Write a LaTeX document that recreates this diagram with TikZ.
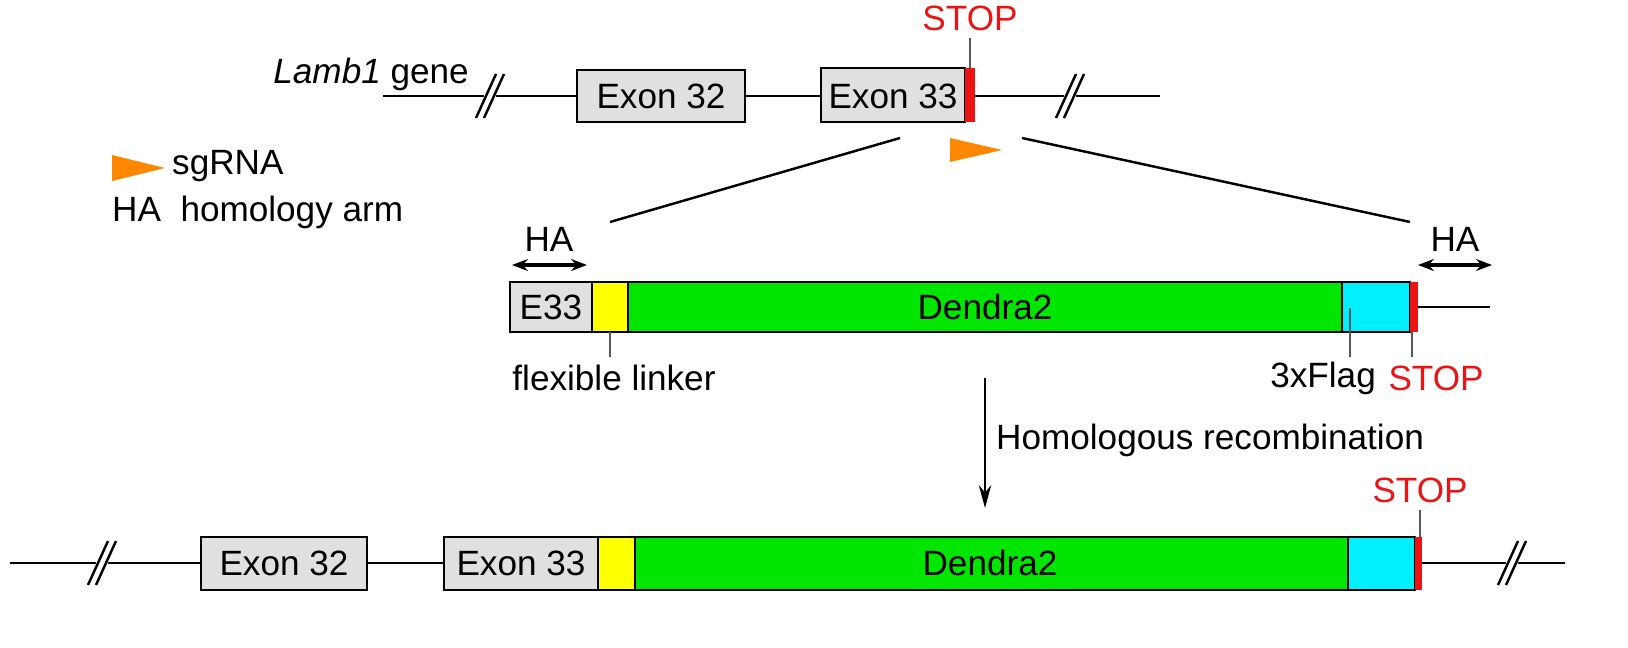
\documentclass[tikz,border=0pt]{standalone}
\usepackage{fontspec}
\setmainfont{Liberation Sans}
\usetikzlibrary{arrows.meta}
\definecolor{exongray}{RGB}{224,224,224}
\definecolor{dendgreen}{RGB}{0,230,0}
\definecolor{flagcyan}{RGB}{0,240,255}
\definecolor{linkyellow}{RGB}{255,255,0}
\definecolor{sgorange}{RGB}{255,135,0}
\definecolor{stopred}{RGB}{235,20,20}
\newcommand{\genebreak}[2]{%
  \fill[white] (#1-9,#2-22) -- (#1+3,#2-22) -- (#1+9,#2+22) -- (#1-3,#2+22) -- cycle;
  \draw[line width=1.4pt] (#1-14,#2+22) -- (#1+6,#2-22);
  \draw[line width=1.4pt] (#1-6,#2+22) -- (#1+14,#2-22);}
\begin{document}
\begin{tikzpicture}[x=0.02cm,y=-0.02cm,font=\fontsize{20}{24}\selectfont]
\tikzset{ExonStyle/.style = {draw, line width=1.4pt, fill=exongray},
  PartStyle/.style = {draw, line width=1.4pt},
  GeneLine/.style = {line width=1.4pt},
  TickStyle/.style = {gray!70!black, line width=1pt},
  StopStyle/.style = {text=stopred}}
\useasboundingbox (0,0) rectangle (1628,648);

% top gene
\draw[GeneLine] (383,96) -- (1160,96);
\genebreak{490}{96}
\genebreak{1070}{96}
\node[anchor=base east] (gene) at (475,84) {\textit{Lamb1} gene};
\draw[ExonStyle] (577,70) rectangle (745,122);
\node (e32a) at (661,96) {Exon 32};
\draw[ExonStyle] (821,68) rectangle (965,122);
\node (e33a) at (893,96) {Exon 33};
\fill[stopred] (965,68) rectangle (975,122);
\node[StopStyle] (stopa) at (970,18) {STOP};
\draw[TickStyle] (970,38) -- (970,68);
\fill[sgorange] (950,138) -- (1002,150) -- (950,162) -- cycle;
\coordinate (zl1) at (900,138);
\coordinate (zl2) at (610,222);
\coordinate (zr1) at (1022,138);
\coordinate (zr2) at (1410,222);
\draw[line width=1.4pt] (zl1) -- (zl2);
\draw[line width=1.4pt] (zr1) -- (zr2);

% legend
\fill[sgorange] (112,155) -- (165,168) -- (112,181) -- cycle;
\node[anchor=west] (sg) at (166,166) {sgRNA};
\node[anchor=west] (ha) at (106,212) {HA\ \ homology arm};

% donor construct
\draw[GeneLine] (1418,307) -- (1490,307);
\draw[ExonStyle] (510,282) rectangle (592,332);
\node (e33b) at (551,307) {E33};
\draw[PartStyle, fill=linkyellow] (592,282) rectangle (628,332);
\draw[PartStyle, fill=dendgreen] (628,282) rectangle (1342,332);
\node (dendb) at (985,307) {Dendra2};
\draw[PartStyle, fill=flagcyan] (1342,282) rectangle (1410,332);
\fill[stopred] (1410,282) rectangle (1418,332);
\draw[{Stealth[length=9pt]}-{Stealth[length=9pt]}, line width=2pt] (512,265) -- (587,265);
\node (hal) at (549,239) {HA};
\draw[{Stealth[length=9pt]}-{Stealth[length=9pt]}, line width=2pt] (1418,265) -- (1492,265);
\node (har) at (1455,239) {HA};
\draw[TickStyle] (610,332) -- (610,357);
\node (link) at (614,378) {flexible linker};
\draw[TickStyle] (1350,308) -- (1350,357);
\node[anchor=east] (flag) at (1382,378) {3xFlag};
\draw[TickStyle] (1412,332) -- (1412,357);
\node[StopStyle] (stopb) at (1436,378) {STOP};

% recombination
\coordinate (ar1) at (985,378);
\coordinate (ar2) at (985,508);
\draw[-{Stealth[length=13pt,width=7pt]}, line width=1.4pt] (ar1) -- (ar2);
\node[anchor=west] (hr) at (990,440) {Homologous recombination};

% recombined allele
\draw[GeneLine] (10,563) -- (1565,563);
\genebreak{102}{563}
\genebreak{1512}{563}
\draw[ExonStyle] (201,537) rectangle (367,590);
\node (e32c) at (284,563) {Exon 32};
\draw[ExonStyle] (444,537) rectangle (598,590);
\node (e33c) at (521,563) {Exon 33};
\draw[PartStyle, fill=linkyellow] (598,537) rectangle (635,590);
\draw[PartStyle, fill=dendgreen] (635,537) rectangle (1348,590);
\node (dendc) at (990,563) {Dendra2};
\draw[PartStyle, fill=flagcyan] (1348,537) rectangle (1415,590);
\fill[stopred] (1415,537) rectangle (1422,590);
\node[StopStyle] (stopc) at (1420,490) {STOP};
\draw[TickStyle] (1420,510) -- (1420,537);
\end{tikzpicture}
\end{document}
